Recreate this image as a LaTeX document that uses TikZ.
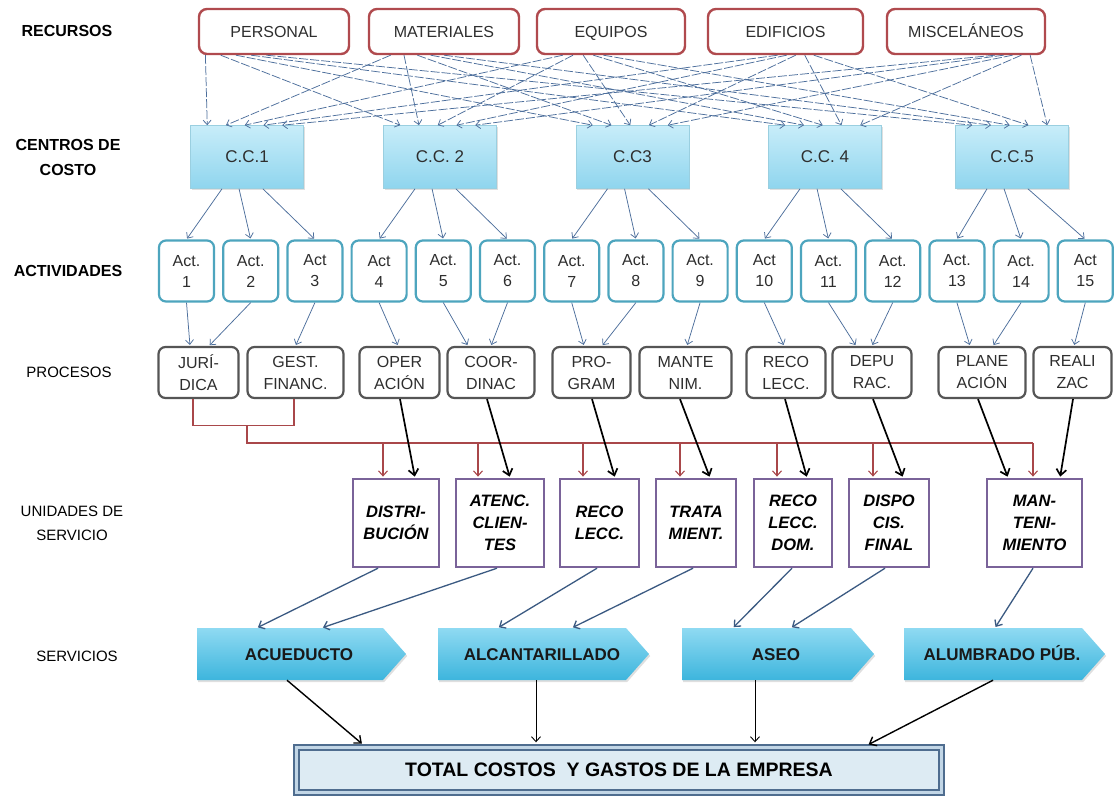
\documentclass[tikz,border=0pt]{standalone}
\usepackage{fontspec}
\setmainfont{Liberation Sans}
\usetikzlibrary{arrows.meta,calc,shadows}
\definecolor{resred}{HTML}{B04A4E}
\definecolor{ccborder}{HTML}{9ACFE0}
\definecolor{cctop}{HTML}{C8EDF9}
\definecolor{ccbot}{HTML}{8FD5EE}
\definecolor{actteal}{HTML}{4DA5BE}
\definecolor{procgray}{HTML}{555555}
\definecolor{unitpurple}{HTML}{7A6399}
\definecolor{arrblue}{HTML}{4D6F9C}
\definecolor{arrdblue}{HTML}{3B5A82}
\definecolor{redline}{HTML}{A9474A}
\definecolor{svtop}{HTML}{8FDAF2}
\definecolor{svbot}{HTML}{3DB5DD}
\definecolor{totborder}{HTML}{4F6D8F}
\definecolor{totinner}{HTML}{C2D6E6}
\definecolor{totfill}{HTML}{DDEBF3}
\definecolor{txtgray}{HTML}{2E2E2E}
\begin{document}
\begin{tikzpicture}[x=1pt,y=-1pt,
  lab/.style={font=\fontsize{16}{25}\selectfont\bfseries,align=center,text=black,inner sep=0pt},
  labn/.style={font=\fontsize{15}{24}\selectfont,align=center,text=black,inner sep=0pt},
  resbox/.style={draw=resred,line width=2.4pt,rounded corners=8pt,fill=white,minimum height=45pt,inner sep=0pt,text height=11.5pt,text depth=0pt,font=\fontsize{16}{19}\selectfont,text=txtgray},
  ccbox/.style={draw=ccborder,line width=0.6pt,top color=cctop,bottom color=ccbot,minimum width=113pt,minimum height=63pt,inner sep=0pt,font=\fontsize{17}{20}\selectfont,text=txtgray,drop shadow={shadow xshift=1.2pt,shadow yshift=-1.8pt,opacity=0.25}},
  actbox/.style={draw=actteal,line width=2.2pt,rounded corners=7pt,fill=white,minimum width=55pt,minimum height=61pt,inner sep=0pt,align=center,font=\fontsize{16}{21}\selectfont,text=txtgray},
  procbox/.style={draw=procgray,line width=2.2pt,rounded corners=7pt,fill=white,minimum height=51pt,inner sep=0pt,align=center,font=\fontsize{16}{22}\selectfont,text=txtgray},
  unitbox/.style={draw=unitpurple,line width=2.4pt,fill=white,minimum height=88pt,inner sep=0pt,align=center,font=\fontsize{16.5}{22}\selectfont\bfseries\itshape,text=black},
  svcshape/.style={top color=svtop,bottom color=svbot,drop shadow={shadow xshift=1.2pt,shadow yshift=-2pt,opacity=0.25}},
  svctext/.style={draw=none,minimum height=52pt,inner sep=0pt,text height=12pt,text depth=0pt,font=\fontsize{17}{19}\selectfont\bfseries,text=black!90},
  resarrow/.style={draw=arrblue,line width=0.75pt,dash pattern=on 9pt off 2pt,-{Straight Barb[length=4.5pt,width=8pt]}},
  bluearrow/.style={draw=arrblue,line width=0.75pt,-{Straight Barb[length=4.5pt,width=8pt]},shorten >=1pt},
  unitarrow/.style={draw=arrdblue,line width=1.3pt,-{Straight Barb[length=5pt,width=9pt]},shorten >=1pt},
  blackarrow/.style={draw=black,line width=1.7pt,-{Straight Barb[length=6pt,width=10pt]},shorten >=1.2pt},
  thinblack/.style={draw=black,line width=0.9pt,-{Straight Barb[length=5pt,width=9pt]},shorten >=4pt},
  midblack/.style={draw=black,line width=1.4pt,-{Straight Barb[length=6pt,width=10pt]},shorten >=4pt},
  redl/.style={draw=redline,line width=1.1pt},
  redarrow/.style={draw=redline,line width=1.1pt,-{Straight Barb[length=5pt,width=9pt]},shorten >=1.2pt}
]
\fill[white] (0,0) rectangle (1115,798);
\useasboundingbox (0,0) rectangle (1115,798);

% left labels
\node[lab] (lRec) at (67,31) {RECURSOS};
\node[lab] (lCen) at (68,157) {CENTROS DE\\COSTO};
\node[lab] (lAct) at (68,271) {ACTIVIDADES};
\node[labn] (lPro) at (69,372) {PROCESOS};
\node[labn] (lUni) at (72,523) {UNIDADES DE\\SERVICIO};
\node[labn] (lSer) at (77,656) {SERVICIOS};

% resources
\node[resbox,minimum width=150pt] (res1) at (274,31.5) {PERSONAL};
\node[resbox,minimum width=150pt] (res2) at (444,31.5) {MATERIALES};
\node[resbox,minimum width=148pt] (res3) at (611,31.5) {EQUIPOS};
\node[resbox,minimum width=155pt] (res4) at (785.5,31.5) {EDIFICIOS};
\node[resbox,minimum width=158pt] (res5) at (966,31.5) {MISCELÁNEOS};

% cost centres
\node[ccbox] (cc1) at (247,157) {C.C.1};
\node[ccbox] (cc2) at (440,157) {C.C. 2};
\node[ccbox] (cc3) at (632.5,157) {C.C3};
\node[ccbox] (cc4) at (825,157) {C.C. 4};
\node[ccbox] (cc5) at (1012,157) {C.C.5};

% activities
\foreach \i/\aname in {1/Act.,2/Act.,3/Act,4/Act,5/Act.,6/Act.,7/Act.,8/Act.,9/Act.,10/Act,11/Act.,12/Act.,13/Act.,14/Act.,15/Act}{
  \pgfmathsetmacro\cx{186.5+64.2*(\i-1)}
  \node[actbox] (a\i) at (\cx,271) {\aname\\\i};
}

% processes
\node[procbox,minimum width=80pt] (jur) at (198.5,372.5) {JURÍ-\\DICA};
\node[procbox,minimum width=96pt] (gest) at (295.5,372.5) {GEST.\\FINANC.};
\node[procbox,minimum width=80pt] (oper) at (399.5,372.5) {OPER\\ACIÓN};
\node[procbox,minimum width=87pt] (coord) at (491,372.5) {COOR-\\DINAC};
\node[procbox,minimum width=78pt] (prog) at (591.5,372.5) {PRO-\\GRAM};
\node[procbox,minimum width=92pt] (mant) at (685.5,372.5) {MANTE\\NIM.};
\node[procbox,minimum width=79pt] (reco) at (786,372.5) {RECO\\LECC.};
\node[procbox,minimum width=79pt] (depu) at (872,372.5) {DEPU\\RAC.};
\node[procbox,minimum width=87pt] (plane) at (982,372.5) {PLANE\\ACIÓN};
\node[procbox,minimum width=78pt] (reali) at (1072.5,372.5) {REALI\\ZAC};

% service units
\node[unitbox,minimum width=86pt] (dist) at (396,523) {DISTRI-\\BUCIÓN};
\node[unitbox,minimum width=88pt] (atenc) at (500,523) {ATENC.\\CLIEN-\\TES};
\node[unitbox,minimum width=79pt] (recol) at (599.5,523) {RECO\\LECC.};
\node[unitbox,minimum width=80pt] (trata) at (696,523) {TRATA\\MIENT.};
\node[unitbox,minimum width=78pt] (recodom) at (793,523) {RECO\\LECC.\\DOM.};
\node[unitbox,minimum width=80pt] (dispo) at (889,523) {DISPO\\CIS.\\FINAL};
\node[unitbox,minimum width=95pt] (manten) at (1034.5,523) {MAN-\\TENI-\\MIENTO};

% services (chevron shapes drawn directly, text nodes on top)
\foreach \xl/\xr in {197/406,438/649,682/874,904/1105}{
  \shade[svcshape] (\xl,628) -- (\xr-23,628) -- (\xr,654) -- (\xr-23,680) -- (\xl,680) -- cycle;
}
\node[svctext,minimum width=209pt] (acu) at (299,654) {ACUEDUCTO};
\node[svctext,minimum width=211pt] (alc) at (542,654) {ALCANTARILLADO};
\node[svctext,minimum width=192pt] (aseo) at (776,654) {ASEO};
\node[svctext,minimum width=201pt] (alum) at (1002,654) {ALUMBRADO PÚB.};

% total
\node[draw=totborder,line width=2.4pt,double=totinner,double distance=2.4pt,fill=totfill,minimum width=645pt,minimum height=45pt,inner sep=0pt,font=\fontsize{19.5}{22}\selectfont\bfseries] (tot) at (619,770) {TOTAL COSTOS \ Y GASTOS DE LA EMPRESA};

% resources -> cost centres
\foreach \r/\lo/\hi in {1/0.05/0.45,2/0.15/0.5,3/0.18/0.45,4/0.45/0.68,5/0.68/0.9}{
  \foreach \c in {1,...,5}{
    \pgfmathsetmacro\fs{\lo+(\hi-\lo)*(\c-1)/4}
    \pgfmathsetmacro\fe{0.15+0.165*(\r-1)}
    \draw[resarrow] ($(res\r.south west)!\fs!(res\r.south east)$) -- ($(cc\c.north west)!\fe!(cc\c.north east)$);
  }
}

% cost centres -> activities
\foreach \c in {1,...,5}{
  \foreach \k/\f in {1/0.28,2/0.43,3/0.64}{
    \pgfmathtruncatemacro\ai{3*(\c-1)+\k}
    \draw[bluearrow] ($(cc\c.south west)!\f!(cc\c.south east)$) -- (a\ai.north);
  }
}

% activities -> processes
\foreach \ai/\pn/\dx in {1/jur/-8.5,2/jur/10.5,3/gest/0,4/oper/-1.5,5/coord/-23,6/coord/0,7/prog/-7.5,8/prog/10.5,9/mant/1.5,10/reco/-2,11/depu/-16,12/depu/0,13/plane/-12,14/plane/11,15/reali/1.5}{
  \draw[bluearrow] (a\ai.south) -- ($(\pn.north)+(\dx,0)$);
}

% red distribution line
\draw[redl] ($(jur.south)+(-5.5,0)$) -- ++(0,26) -| ($(gest.south)+(-1.5,0)$);
\coordinate (rtop) at (247,425);
\coordinate (rh) at (247,443);
\coordinate (r1) at ($(dist.north)+(-13,0)$);
\coordinate (r2) at ($(atenc.north)+(-22,0)$);
\coordinate (r3) at ($(recol.north)+(-16.5,0)$);
\coordinate (r4) at ($(trata.north)+(-16,0)$);
\coordinate (r5) at ($(recodom.north)+(-16,0)$);
\coordinate (r6) at ($(dispo.north)+(-16,0)$);
\coordinate (r7) at ($(manten.north)+(-1.5,0)$);
\draw[redl] (rtop) -- (rh) -- (rh -| r7);
\foreach \k in {1,...,7}{
  \draw[redarrow] (rh -| r\k) -- (r\k);
}

% processes -> service units
\foreach \pn/\sx/\un/\ex in {oper/0.5/dist/19,coord/-4/atenc/10,prog/0.5/recol/15.5,mant/-5.5/trata/14,reco/-1/recodom/14,depu/1/dispo/14,plane/-4/manten/-26.5,reali/0.5/manten/25.5}{
  \draw[blackarrow] ($(\pn.south)+(\sx,0)$) -- ($(\un.north)+(\ex,0)$);
}

% service units -> services
\foreach \un/\sx/\sn/\ex in {dist/-18/acu/-42,atenc/-3/acu/23,recol/-2.5/alc/-44,trata/-3/alc/30,recodom/-1/aseo/-43,dispo/-4/aseo/15,manten/-1.5/alum/-7}{
  \draw[unitarrow] ($(\un.south)+(\sx,0)$) -- ($(\sn.north)+(\ex,0)$);
}

% services -> total
\draw[midblack] ($(acu.south)+(-12,0)$) -- ($(tot.north)+(-254,0)$);
\draw[thinblack] ($(alc.south)+(-6,0)$) -- ($(tot.north)+(-83,0)$);
\draw[thinblack] ($(aseo.south)+(-21,0)$) -- ($(tot.north)+(136,0)$);
\draw[midblack] ($(alum.south)+(-9,0)$) -- ($(tot.north)+(246,0)$);
\end{tikzpicture}
\end{document}
